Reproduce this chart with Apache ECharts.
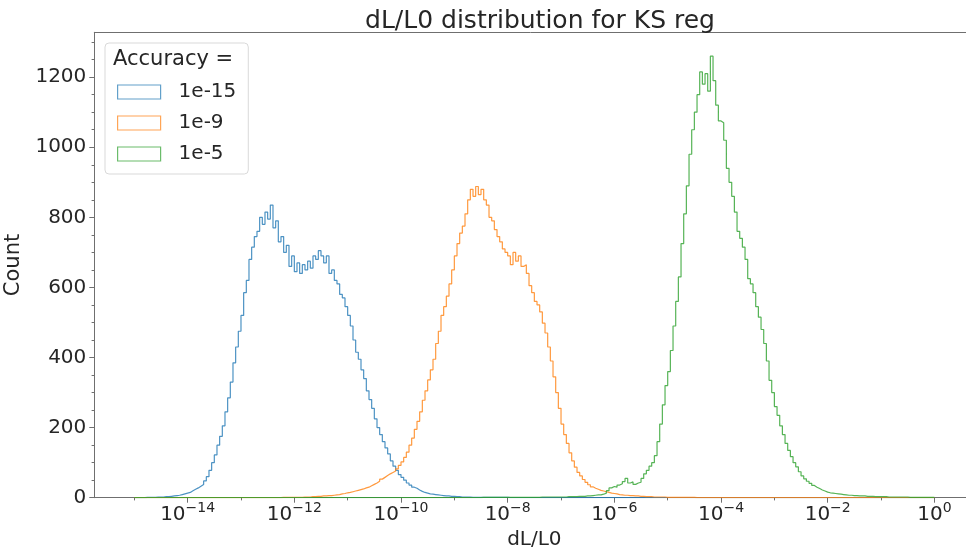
<!DOCTYPE html>
<html>
<head>
<meta charset="utf-8">
<script src="https://cdn.jsdelivr.net/npm/echarts@6/dist/echarts.min.js"></script>
<style>
  html, body { margin: 0; padding: 0; background: #fff; }
  #chart { width: 966px; height: 554px; }
</style>
</head>
<body>
<div id="chart"></div>
<script>
// histogram bins: log10 edges from 1e-15 to 1e0, 0.05 decade wide
const binStep = 0.05;
const firstEdge = -15;
const lastEdge = 0;

const seriesNames = ['1e-15', '1e-9', '1e-5'];
const seriesColors = ['#1f77b4', '#ff7f0e', '#2ca02c'];

// counts, each array starts at its own exponent
const blueStart = -15.0;
const blueCounts = [
  0, 0, 0, 0, 1, 1, 1, 1, 2, 2, 2, 3, 3, 4, 5, 6, 7, 9, 11, 13,
  15, 20, 24, 28, 33, 38, 48, 60, 78, 100, 122, 150, 175, 205, 245, 285, 330, 385, 430, 475,
  520, 585, 620, 680, 715, 745, 760, 800, 780, 815, 795, 835, 770, 790, 730, 745, 700, 720, 660, 690,
  645, 670, 640, 665, 650, 675, 655, 690, 680, 705, 690, 670, 690, 640, 650, 620, 610, 580, 570, 545,
  520, 490, 450, 415, 395, 365, 340, 305, 280, 255, 225, 200, 180, 160, 142, 125, 105, 90, 78, 66,
  58, 50, 42, 36, 30, 27, 22, 18, 15, 13, 11, 10, 9, 8, 7, 6, 5, 5, 4, 4,
  3, 3, 2, 2, 2, 2, 1, 1, 1, 1, 1, 1, 1, 1, 1, 1, 1, 1, 1, 1
];

const orangeStart = -12.5;
const orangeCounts = [
  0, 0, 0, 0, 0, 1, 1, 1, 1, 1,
  1, 1, 1, 2, 2, 2, 3, 3, 4, 4, 5, 5, 6, 6, 7, 8, 9, 11, 12, 14,
  15, 17, 19, 21, 23, 25, 28, 30, 34, 38, 42, 47, 53, 58, 63, 68, 72, 76, 82, 92,
  102, 115, 130, 150, 170, 195, 218, 245, 278, 305, 336, 365, 395, 440, 475, 520, 545, 575, 610, 650,
  690, 725, 755, 775, 810, 850, 880, 860, 888, 865, 880, 850, 835, 800, 790, 765, 745, 730, 710, 700,
  690, 665, 700, 675, 690, 660, 665, 640, 605, 585, 560, 550, 530, 498, 470, 430, 390, 345, 300, 255,
  210, 180, 155, 128, 105, 87, 72, 62, 52, 44, 37, 31, 27, 24, 21, 19, 17, 15, 13, 12,
  11, 9, 8, 7, 7, 6, 6, 5, 5, 4, 4, 3, 3, 3, 2, 2, 2, 2, 2, 1,
  1, 1, 1, 1, 1, 1, 1, 1, 1, 1
];

const greenStart = -9.0;
const greenCounts = [
  0, 0, 0, 0, 0, 0, 0, 0, 0, 0, 1, 1, 1, 1, 1, 1, 1, 1, 1, 1,
  1, 1, 1, 1, 1, 1, 1, 1, 1, 1, 1, 1, 2, 2, 2, 2, 2, 2, 2, 2,
  2, 2, 3, 3, 3, 3, 4, 4, 4, 5, 5, 6, 7, 8, 8, 10, 13, 20, 28, 32,
  30, 36, 40, 46, 55, 42, 45, 38, 42, 44, 55, 68, 78, 90, 100, 120, 160, 210, 265, 320,
  360, 420, 490, 560, 630, 725, 810, 890, 980, 1050, 1100, 1150, 1215, 1180, 1210, 1160, 1260, 1190, 1120, 1075,
  1070, 1020, 940, 900, 860, 815, 760, 740, 715, 680, 625, 610, 585, 545, 515, 480, 440, 390, 335, 300,
  260, 235, 205, 180, 155, 135, 117, 100, 88, 74, 62, 54, 47, 41, 35, 30, 26, 22, 19, 16,
  14, 13, 12, 11, 10, 9, 8, 7, 7, 6, 6, 5, 5, 5, 4, 4, 4, 3, 3, 3,
  3, 3, 2, 2, 2, 2, 2, 2, 2, 2, 1, 1, 1, 1, 1, 1, 1, 1, 1, 1
];

// tick labels
const xMajorExp = [-14, -12, -10, -8, -6, -4, -2, 0];
const xMinorExp = [-15, -13, -11, -9, -7, -5, -3, -1];
const yMajor = [0, 200, 400, 600, 800, 1000, 1200];
const yMinor = [50, 100, 150, 250, 300, 350, 450, 500, 550, 650, 700, 750, 850, 900, 950, 1050, 1100, 1150, 1250, 1300];

const xMin = Math.pow(10, -15.75);
const xMax = Math.pow(10, 0.75);
const yMax = 1328;

const font = 'DejaVu Sans';
const textColor = '#262626';
const spineColor = '#6f6f6f';

// step points at left bin edges, zero outside the read range
function stepPoints(start, counts) {
  const pts = [];
  const n = Math.round((lastEdge - firstEdge) / binStep);
  let last = 0;
  for (let i = 0; i < n; i++) {
    const e = firstEdge + i * binStep;
    const k = Math.round((e - start) / binStep);
    const c = (k >= 0 && k < counts.length) ? counts[k] : 0;
    pts.push([Math.pow(10, e), c]);
    last = c;
  }
  pts.push([Math.pow(10, lastEdge), last]);
  return pts;
}

const data = [
  stepPoints(blueStart, blueCounts),
  stepPoints(orangeStart, orangeCounts),
  stepPoints(greenStart, greenCounts)
];

function expLabel(v) {
  const e = Math.round(Math.log10(v));
  const s = e < 0 ? '\u2212' + (-e) : String(e);
  return '{b|10}{s|' + s + '}';
}

const chart = echarts.init(document.getElementById('chart'), null, { renderer: 'canvas' });

chart.setOption({
  animation: false,
  title: [{
    text: 'dL/L0 distribution for KS reg',
    left: 535,
    textAlign: 'center',
    top: 4,
    textStyle: { fontFamily: font, fontSize: 25, fontWeight: 'normal', color: textColor }
  }, {
    // legend title
    text: 'Accuracy =',
    left: 113,
    top: 49,
    padding: 0,
    z: 10,
    textStyle: { fontFamily: font, fontSize: 21, fontWeight: 'normal', color: textColor }
  }],
  grid: {
    left: 94.3,
    top: 32.3,
    right: -8.4,
    bottom: 56.3,
    outerBoundsMode: 'none'
  },
  legend: {
    orient: 'vertical',
    left: 105,
    top: 43,
    padding: [39, 12, 10, 12],
    itemWidth: 43,
    itemHeight: 14,
    itemGap: 11,
    backgroundColor: '#ffffff',
    borderColor: '#d9d9d9',
    borderWidth: 1,
    borderRadius: 4,
    selectedMode: false,
    textStyle: { fontFamily: font, fontSize: 20, color: textColor, lineHeight: 20, padding: [0, 0, 0, 13] },
    data: seriesNames.map((name, i) => ({
      name: name,
      icon: 'rect',
      itemStyle: { color: 'rgba(0,0,0,0)', borderColor: seriesColors[i], borderWidth: 1.2, opacity: 0.7 }
    }))
  },
  xAxis: [{
    type: 'log',
    min: xMin,
    max: xMax,
    position: 'bottom',
    name: 'dL/L0',
    nameLocation: 'middle',
    nameGap: 30,
    nameTextStyle: { fontFamily: font, fontSize: 20, color: textColor },
    axisLine: { show: true, onZero: false, lineStyle: { color: spineColor, width: 1 } },
    axisTick: { show: true, length: 5, lineStyle: { color: spineColor }, customValues: xMajorExp.map(e => Math.pow(10, e)) },
    axisLabel: {
      margin: 4,
      customValues: xMajorExp.map(e => Math.pow(10, e)),
      formatter: expLabel,
      rich: {
        b: { fontFamily: font, fontSize: 20, color: textColor, lineHeight: 26, verticalAlign: 'middle' },
        s: { fontFamily: font, fontSize: 14, color: textColor, lineHeight: 16, verticalAlign: 'top' }
      }
    },
    splitLine: { show: false }
  }, {
    // minor ticks at the odd decades
    type: 'log',
    min: xMin,
    max: xMax,
    position: 'bottom',
    axisLine: { show: false, onZero: false },
    axisTick: { show: true, length: 2.7, lineStyle: { color: spineColor }, customValues: xMinorExp.map(e => Math.pow(10, e)) },
    axisLabel: { show: false },
    splitLine: { show: false }
  }, {
    // top spine
    type: 'log',
    min: xMin,
    max: xMax,
    position: 'top',
    axisLine: { show: true, onZero: false, lineStyle: { color: spineColor, width: 1 } },
    axisTick: { show: false },
    axisLabel: { show: false },
    splitLine: { show: false }
  }],
  yAxis: [{
    type: 'value',
    min: 0,
    max: yMax,
    position: 'left',
    name: 'Count',
    nameLocation: 'middle',
    nameGap: 48,
    nameTextStyle: { fontFamily: font, fontSize: 21, color: textColor },
    axisLine: { show: true, onZero: false, lineStyle: { color: spineColor, width: 1 } },
    axisTick: { show: true, length: 5, lineStyle: { color: spineColor }, customValues: yMajor },
    axisLabel: { margin: 8, customValues: yMajor, formatter: v => String(v), fontFamily: font, fontSize: 20, color: textColor },
    splitLine: { show: false }
  }, {
    type: 'value',
    min: 0,
    max: yMax,
    position: 'left',
    axisLine: { show: false, onZero: false },
    axisTick: { show: true, length: 2.7, lineStyle: { color: spineColor }, customValues: yMinor },
    axisLabel: { show: false },
    splitLine: { show: false }
  }],
  series: seriesNames.map((name, i) => ({
    name: name,
    type: 'line',
    step: 'end',
    symbol: 'none',
    data: data[i],
    color: seriesColors[i],
    lineStyle: { color: seriesColors[i], width: 1.2, opacity: 0.8 },
    z: 2 + i
  }))
});
</script>
</body>
</html>
